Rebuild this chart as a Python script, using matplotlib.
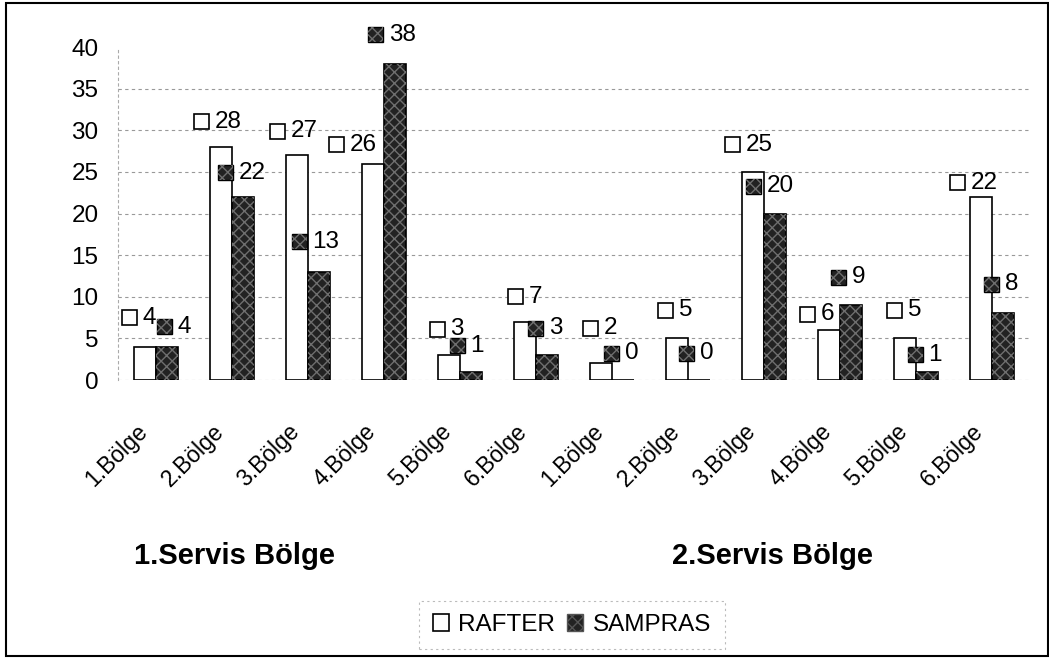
import numpy as np
import matplotlib
matplotlib.use("Agg")
import matplotlib.pyplot as plt
from matplotlib.patches import Rectangle, Patch
from matplotlib.offsetbox import AnnotationBbox, DrawingArea, TextArea, HPacker
from matplotlib.transforms import ScaledTranslation

plt.rcParams['font.family'] = ['Liberation Sans', 'DejaVu Sans']

# data
regions = ['1.Bölge', '2.Bölge', '3.Bölge', '4.Bölge', '5.Bölge', '6.Bölge',
           '1.Bölge', '2.Bölge', '3.Bölge', '4.Bölge', '5.Bölge', '6.Bölge']
groups = ['1.Servis Bölge', '2.Servis Bölge']
rafter = [4, 28, 27, 26, 3, 7, 2, 5, 25, 6, 5, 22]
sampras = [4, 22, 13, 38, 1, 3, 0, 0, 20, 9, 1, 8]

# label offsets (pixels from the bar top, x right / y down) - labels were moved by hand
rafter_off = [(-23, -29), (-27, -25), (-27, -24), (-44, -19), (-19, -26), (-17, -25),
              (-18, -35), (-19, -28), (-28, -27), (-29, -16), (-18, -28), (-31, -14)]
sampras_off = [(-10, -20), (-25, -24), (-27, -30), (-27, -29), (-21, -26), (-19, -27),
               (-19, -27), (-20, -27), (-29, -27), (-20, -28), (-19, -17), (-19, -29)]

DARK = '#222222'
SPECK = '#6e6e6e'
W = 1049
H = 660

fig = plt.figure(figsize=(W / 100, H / 100), dpi=100)
ax = fig.add_axes([118 / W, 1 - 380 / H, (1030 - 118) / W, (380 - 47) / H])

x = np.arange(len(regions))
bw = 0.29
ax.bar(x - bw / 2, rafter, bw, color='white', edgecolor='black', lw=1.2, zorder=3)
ax.bar(x + bw / 2, sampras, bw, color=DARK, edgecolor='black', lw=1.2, zorder=3)
ax.bar(x + bw / 2, sampras, bw, fill=False, hatch='xxx', edgecolor=SPECK, lw=0, zorder=3)


def key_label(xv, yv, val, dark, off):
    da = DrawingArea(10.8, 10.8, 0, 0)
    if dark:
        da.add_artist(Rectangle((0, 0), 10.8, 10.8, fc=DARK, ec='black', lw=1))
        da.add_artist(Rectangle((0, 0), 10.8, 10.8, fill=False, hatch='xxx', ec=SPECK, lw=0))
    else:
        da.add_artist(Rectangle((0, 0), 10.8, 10.8, fc='white', ec='black', lw=1.2))
    ta = TextArea(str(val), textprops=dict(fontsize=17.5))
    box = HPacker(children=[da, ta], align='center', pad=0, sep=4)
    ab = AnnotationBbox(box, (xv, yv), xybox=(off[0], -off[1]), xycoords='data',
                        boxcoords='offset pixels', box_alignment=(0, 0.5),
                        frameon=False, pad=0, zorder=5)
    ax.add_artist(ab)


for i in range(len(regions)):
    key_label(x[i] - bw / 2, rafter[i], rafter[i], False, rafter_off[i])
    key_label(x[i] + bw / 2, sampras[i], sampras[i], True, sampras_off[i])

ax.set_xlim(-0.5, len(regions) - 0.5)
ax.set_ylim(0, 40)
ax.set_yticks(range(0, 45, 5))
ax.tick_params(axis='y', length=0, pad=14, labelsize=17.5)
ax.set_xticks(x)
ax.set_xticklabels([])
ax.tick_params(axis='x', length=0)
ax.grid(axis='y', color='#999999', ls=(0, (3, 3)), lw=0.8, zorder=0)
ax.yaxis.get_gridlines()[-1].set_visible(False)
for s in ['top', 'right', 'bottom']:
    ax.spines[s].set_visible(False)
ax.spines['left'].set_color('#aaaaaa')
ax.spines['left'].set_linestyle((0, (2, 3)))
ax.spines['left'].set_linewidth(0.8)

# rotated category labels
shift = ax.get_xaxis_transform() + ScaledTranslation(-0.2, -0.4, fig.dpi_scale_trans)
for i, lab in enumerate(regions):
    ax.text(x[i], 0, lab, transform=shift, rotation=45, ha='right', va='top',
            rotation_mode='anchor', fontsize=16.5)

# group titles
fig.text(234 / W, 1 - 556 / H, groups[0], ha='center', va='center', fontsize=21, weight='bold')
fig.text(772 / W, 1 - 556 / H, groups[1], ha='center', va='center', fontsize=21, weight='bold')

handles = [Patch(fc='white', ec='black', lw=1.2),
           Patch(fc=DARK, ec='#555555', hatch='xxx', lw=1)]
leg = fig.legend(handles, ['RAFTER', 'SAMPRAS'], loc='center', ncol=2,
                 bbox_to_anchor=(572 / W, 1 - 625 / H), fontsize=17.5,
                 handlelength=0.65, handleheight=0.65, handletextpad=0.4,
                 columnspacing=0.5, borderpad=0.55, fancybox=False, frameon=True)
leg.get_frame().set_edgecolor('#aaaaaa')
leg.get_frame().set_linestyle((0, (2, 3)))
leg.get_frame().set_linewidth(0.8)

fig.add_artist(Rectangle((6 / W, 4 / H), 1042 / W, 653 / H, transform=fig.transFigure,
                         fill=False, ec='black', lw=1.5))

fig.savefig('out.png', dpi=100)
